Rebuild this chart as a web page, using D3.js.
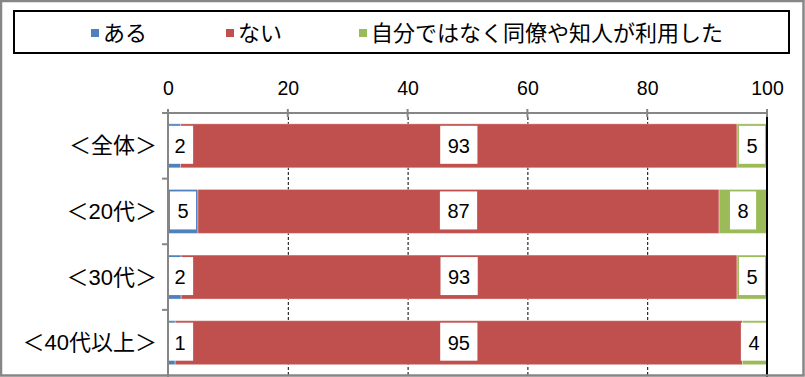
<!DOCTYPE html>
<html>
<head>
<meta charset="utf-8">
<script src="https://cdn.jsdelivr.net/npm/d3@7"></script>
<style>
  body { margin: 0; background: #fff; }
  text { font-family: "Liberation Sans", "Noto Sans CJK JP", sans-serif; fill: #000; }
</style>
</head>
<body>
<div id="wrapper"></div>
<script>
// data
const categories = ["＜全体＞", "＜20代＞", "＜30代＞", "＜40代以上＞"]
const seriesNames = ["ある", "ない", "自分ではなく同僚や知人が利用した"]
const aru = [2.1, 5.0, 2.2, 1.2]
const nai = [92.9, 87.0, 92.8, 94.7]
const other = [5.0, 8.0, 5.0, 4.1]
const xTicks = [0, 20, 40, 60, 80, 100]
const colors = ["#4F81BD", "#C0504D", "#9BBB59"]

function drawBars() {
  const dms = {
    width: 805,
    height: 377,
    margin: { top: 113, right: 38, bottom: 0, left: 168 },
  }
  dms.boundedWidth = dms.width - dms.margin.left - dms.margin.right
  dms.boundedHeight = 375.5 - dms.margin.top

  const wrapper = d3.select("#wrapper")
    .append("svg")
    .attr("width", dms.width)
    .attr("height", dms.height)

  // stacked rows
  const rows = categories.map((c, i) => ({ cat: c, aru: aru[i], nai: nai[i], other: other[i] }))
  const keys = ["aru", "nai", "other"]
  const stacked = d3.stack().keys(keys)(rows)

  const xScale = d3.scaleLinear()
    .domain([0, 100])
    .range([0, dms.boundedWidth])

  const yScale = d3.scaleBand()
    .domain(categories)
    .range([0, dms.boundedHeight])
    .paddingInner(0.33)
    .paddingOuter(0.165)

  const bounds = wrapper.append("g")
    .attr("transform", `translate(${dms.margin.left},${dms.margin.top})`)

  // gridlines
  bounds.append("g")
    .selectAll("line")
    .data(xTicks.filter(d => d > 0 && d < 100))
    .join("line")
      .attr("x1", d => xScale(d) + 0.5)
      .attr("x2", d => xScale(d) + 0.5)
      .attr("y1", 4)
      .attr("y2", dms.height - dms.margin.top)
      .attr("stroke", "#000")
      .attr("stroke-width", 1)
      .attr("stroke-dasharray", "3 2")

  // bars
  const layers = bounds.append("g")
    .selectAll("g")
    .data(stacked)
    .join("g")
      .attr("fill", (d, i) => colors[i])

  layers.selectAll("rect")
    .data(d => d)
    .join("rect")
      .attr("x", d => xScale(d[0]))
      .attr("y", d => yScale(d.data.cat))
      .attr("width", d => xScale(d[1]) - xScale(d[0]))
      .attr("height", yScale.bandwidth())
      .attr("stroke", "#fff")
      .attr("stroke-opacity", 0.35)
      .attr("stroke-width", 1)

  // data labels
  const labels = []
  stacked.forEach(layer => {
    layer.forEach(d => {
      labels.push({ cat: d.data.cat, mid: (d[0] + d[1]) / 2, value: d[1] - d[0] })
    })
  })

  const labelGroups = bounds.append("g")
    .selectAll("g")
    .data(labels)
    .join("g")

  labelGroups.append("rect").attr("fill", "#fff")
  labelGroups.append("text")
    .attr("font-size", 20)
    .attr("text-anchor", "middle")
    .attr("dominant-baseline", "central")
    .text(d => d3.format(".0f")(d.value))

  labelGroups.each(function(d) {
    const g = d3.select(this)
    const w = g.select("text").node().getComputedTextLength() + 15
    let left = xScale(d.mid) - w / 2
    left = Math.max(-1, Math.min(left, dms.boundedWidth - w))
    const cy = yScale(d.cat) + yScale.bandwidth() / 2 - 1
    g.select("rect")
      .attr("x", left)
      .attr("y", cy - 19)
      .attr("width", w)
      .attr("height", 38)
    g.select("text")
      .attr("x", left + w / 2)
      .attr("y", cy + 1)
  })

  // right edge line
  bounds.append("line")
    .attr("x1", dms.boundedWidth)
    .attr("x2", dms.boundedWidth)
    .attr("y1", 0)
    .attr("y2", dms.height - dms.margin.top)
    .attr("stroke", "#000")
    .attr("stroke-width", 2)

  // y axis (category boundaries)
  const bounds2 = [0, ...categories.map(c => yScale(c) + yScale.bandwidth() + yScale.step() * 0.165)]
  bounds.append("line")
    .attr("x1", 0).attr("x2", 0)
    .attr("y1", 0).attr("y2", dms.height - dms.margin.top)
    .attr("stroke", "#868686")
    .attr("stroke-width", 2)
  bounds.append("g")
    .selectAll("line")
    .data(bounds2.slice(1, -1))
    .join("line")
      .attr("x1", -6).attr("x2", 0)
      .attr("y1", d => d).attr("y2", d => d)
      .attr("stroke", "#868686")
      .attr("stroke-width", 2)

  bounds.append("g")
    .selectAll("text")
    .data(categories)
    .join("text")
      .attr("x", -11)
      .attr("y", d => yScale(d) + yScale.bandwidth() / 2)
      .attr("text-anchor", "end")
      .attr("dominant-baseline", "central")
      .attr("font-size", 22)
      .text(d => d)

  // x axis on top
  const xAxisGenerator = d3.axisTop(xScale)
    .tickValues(xTicks)
    .tickSize(0)
    .tickPadding(18)

  const xAxis = bounds.append("g")
    .call(xAxisGenerator)
  xAxis.select(".domain").remove()
  xAxis.selectAll("text")
    .attr("font-size", 19.5)
    .attr("font-family", "Liberation Sans, Arial, sans-serif")

  bounds.append("line")
    .attr("x1", -6).attr("x2", dms.boundedWidth)
    .attr("y1", 0).attr("y2", 0)
    .attr("stroke", "#868686")
    .attr("stroke-width", 2)
  bounds.append("g")
    .selectAll("line")
    .data(xTicks)
    .join("line")
      .attr("x1", d => xScale(d)).attr("x2", d => xScale(d))
      .attr("y1", -4).attr("y2", 4)
      .attr("stroke", "#868686")
      .attr("stroke-width", 2)

  // legend
  const legend = wrapper.append("g")
  legend.append("rect")
    .attr("x", 14).attr("y", 11)
    .attr("width", 775).attr("height", 42)
    .attr("fill", "#fff")
    .attr("stroke", "#000")
    .attr("stroke-width", 2)

  const legendX = [91, 226, 359]
  const items = legend.selectAll("g.item")
    .data(seriesNames)
    .join("g")
      .attr("class", "item")
      .attr("transform", (d, i) => `translate(${legendX[i]},33)`)
  items.append("rect")
    .attr("x", 0).attr("y", -4)
    .attr("width", 8).attr("height", 8)
    .attr("fill", (d, i) => colors[i])
  items.append("text")
    .attr("x", 12)
    .attr("dominant-baseline", "central")
    .attr("font-size", 22)
    .text(d => d)

  // outer border
  wrapper.append("rect")
    .attr("x", 1).attr("y", 1)
    .attr("width", 802.5).attr("height", 374.5)
    .attr("fill", "none")
    .attr("stroke", "#868686")
    .attr("stroke-width", 2.5)
}

drawBars()
</script>
</body>
</html>
